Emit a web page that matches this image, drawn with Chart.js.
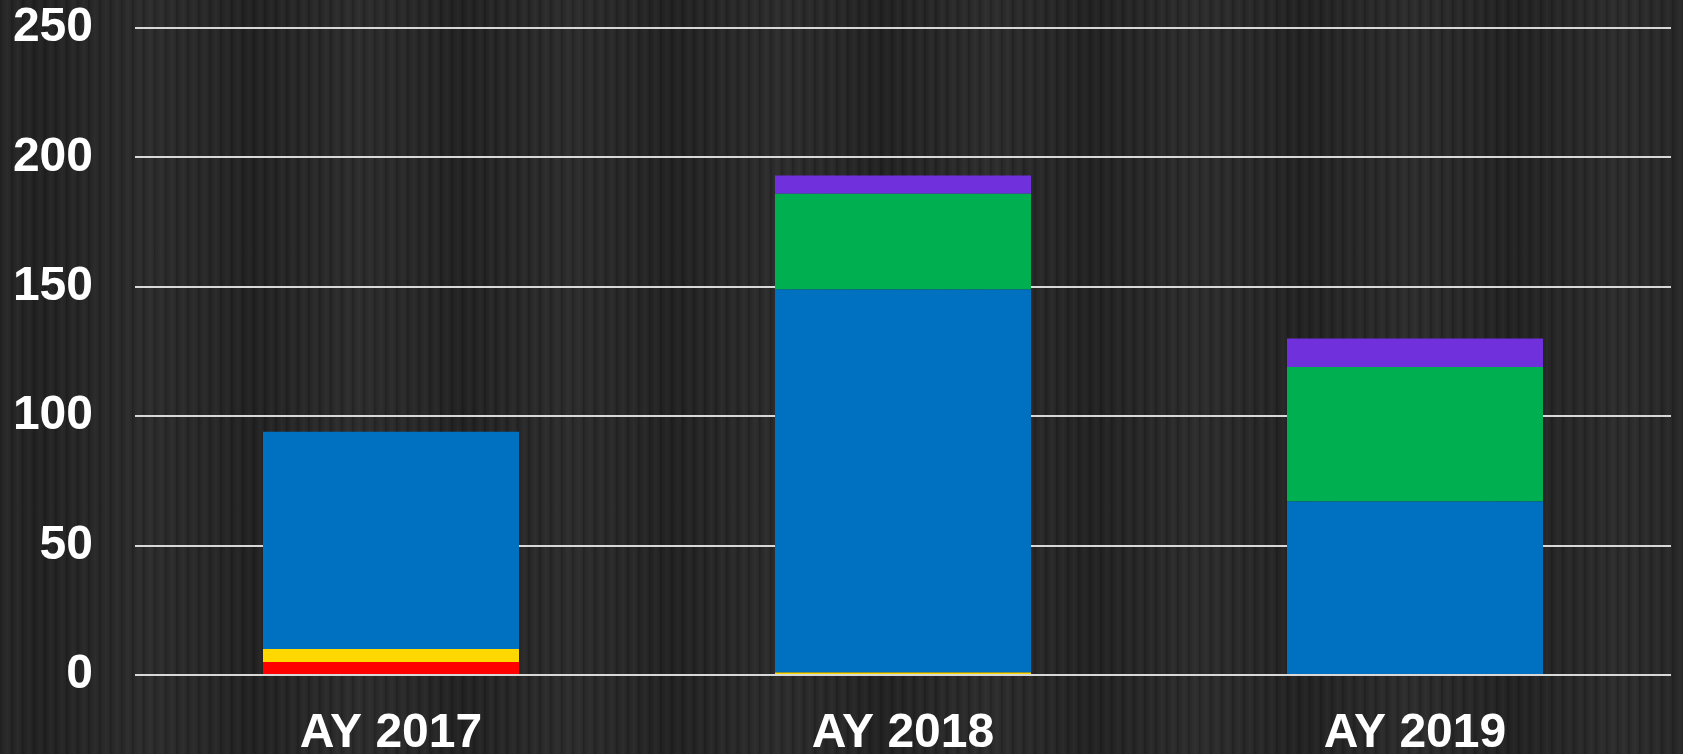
<!DOCTYPE html>
<html>
<head>
<meta charset="utf-8">
<script src="https://cdn.jsdelivr.net/npm/chart.js@4"></script>
<style>
  html, body { margin: 0; padding: 0; }
  body {
    width: 1683px;
    height: 754px;
    overflow: hidden;
    background-color: #262626;
    background-image:
      repeating-linear-gradient(90deg, rgba(0,0,0,0.2) 0px, rgba(0,0,0,0) 3px, rgba(255,255,255,0.03) 7px, rgba(0,0,0,0) 11px),
      repeating-linear-gradient(90deg, rgba(0,0,0,0) 0px, rgba(0,0,0,0.14) 40px, rgba(0,0,0,0) 95px, rgba(255,255,255,0.025) 150px, rgba(0,0,0,0) 210px);
  }
  .container { position: relative; width: 1683px; height: 754px; }
</style>
</head>
<body>
<div class="container"><canvas id="chart"></canvas></div>
<script>
const categories = ['AY 2017', 'AY 2018', 'AY 2019'];
const redValues = [5, 0, 0];
const yellowValues = [5, 1, 0];
const blueValues = [84, 148, 67];
const greenValues = [0, 37, 52];
const purpleValues = [0, 7, 11];
const yTicks = [0, 50, 100, 150, 200, 250];

const makeSet = (data, color) => ({
  data,
  backgroundColor: color,
  borderWidth: 0,
  barPercentage: 1,
  categoryPercentage: 0.5
});

const font = { family: 'Liberation Sans, Arial, sans-serif', size: 48, weight: 'bold' };

new Chart(document.getElementById('chart'), {
  type: 'bar',
  data: {
    labels: categories,
    datasets: [
      makeSet(redValues, '#ff0000'),
      makeSet(yellowValues, '#ffd800'),
      makeSet(blueValues, '#0070c0'),
      makeSet(greenValues, '#00b050'),
      makeSet(purpleValues, '#7030dc')
    ]
  },
  options: {
    responsive: true,
    maintainAspectRatio: false,
    animation: false,
    layout: { padding: { top: 28, right: 12, left: 0, bottom: 0 } },
    plugins: { legend: { display: false }, tooltip: { enabled: false } },
    scales: {
      x: {
        stacked: true,
        grid: { display: false, drawTicks: false },
        border: { display: false },
        ticks: { color: '#ffffff', font, padding: 30 },
        afterFit: (axis) => {
          axis.height = 79;
          axis.paddingLeft = 0;
          axis.paddingRight = 0;
        }
      },
      y: {
        stacked: true,
        min: 0,
        max: 250,
        afterBuildTicks: (axis) => { axis.ticks = yTicks.map((v) => ({ value: v })); },
        grid: { color: 'rgba(225,225,225,0.95)', lineWidth: 2, drawTicks: false },
        border: { display: false },
        ticks: { color: '#ffffff', font, padding: 42 },
        afterFit: (axis) => {
          axis.width = 135;
          axis.paddingTop = 0;
          axis.paddingBottom = 0;
        }
      }
    }
  }
});
</script>
</body>
</html>
